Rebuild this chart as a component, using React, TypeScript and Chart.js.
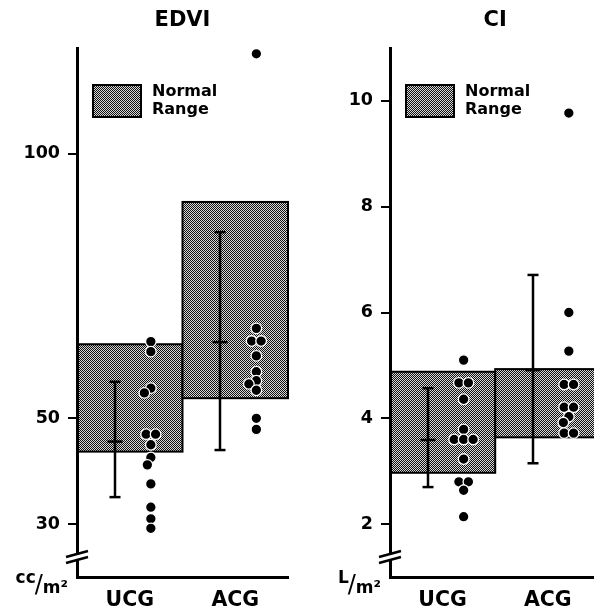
import React, { useEffect, useRef } from "react";
import { Chart, registerables } from "chart.js";

Chart.register(...registerables);

// ---------- data ----------
const categories = ["UCG", "ACG"];

const edviTitle = "EDVI";
const edviUnit = "cc";
const edviTicks = [30, 50, 100];
const edviMin = 20;
const edviMax = 120;
const edviNormalLow = [43.7, 53.8];
const edviNormalHigh = [64.0, 90.9];
const edviMean = [45.6, 64.4];
const edviSdLow = [35.1, 44.0];
const edviSdHigh = [56.9, 85.2];
const edviUCG = [64.5, 62.6, 55.7, 54.8, 47.0, 47.0, 45.0, 42.6, 41.2, 37.6, 33.2, 31.0, 29.2];
const edviACG = [118.9, 67.0, 64.6, 64.6, 61.8, 58.8, 57.1, 56.5, 55.3, 50.0, 47.9];

const ciTitle = "CI";
const ciUnit = "L";
const ciTicks = [2, 4, 6, 8, 10];
const ciMin = 1;
const ciMax = 11;
const ciNormalLow = [2.97, 3.64];
const ciNormalHigh = [4.88, 4.93];
const ciMean = [3.59, 4.91];
const ciSdLow = [2.7, 3.15];
const ciSdHigh = [4.57, 6.71];
const ciUCG = [5.1, 4.67, 4.67, 4.36, 3.79, 3.6, 3.6, 3.6, 3.23, 2.8, 2.8, 2.64, 2.14];
const ciACG = [9.77, 6.0, 5.27, 4.64, 4.64, 4.21, 4.21, 4.03, 3.92, 3.72, 3.72];

const legendLines = ["Normal", "Range"];

// ---------- layout / style ----------
const FONT = "DejaVu Sans";
const ERR_X = 0.36;
const DOT_X = 0.7;

type Panel = {
  title: string;
  unit: string;
  ticks: number[];
  min: number;
  max: number;
  normalLow: number[];
  normalHigh: number[];
  mean: number[];
  sdLow: number[];
  sdHigh: number[];
  groups: number[][];
};

const edviPanel: Panel = {
  title: edviTitle, unit: edviUnit, ticks: edviTicks, min: edviMin, max: edviMax,
  normalLow: edviNormalLow, normalHigh: edviNormalHigh, mean: edviMean,
  sdLow: edviSdLow, sdHigh: edviSdHigh, groups: [edviUCG, edviACG],
};
const ciPanel: Panel = {
  title: ciTitle, unit: ciUnit, ticks: ciTicks, min: ciMin, max: ciMax,
  normalLow: ciNormalLow, normalHigh: ciNormalHigh, mean: ciMean,
  sdLow: ciSdLow, sdHigh: ciSdHigh, groups: [ciUCG, ciACG],
};

function makePattern(ctx: CanvasRenderingContext2D) {
  const c = document.createElement("canvas");
  c.width = 2;
  c.height = 2;
  const g = c.getContext("2d")!;
  g.fillStyle = "#d8d8d8";
  g.fillRect(0, 0, 2, 2);
  g.fillStyle = "#111111";
  g.fillRect(0, 0, 1, 1);
  g.fillRect(1, 1, 1, 1);
  return ctx.createPattern(c, "repeat")!;
}

function line(ctx: CanvasRenderingContext2D, x1: number, y1: number, x2: number, y2: number) {
  ctx.beginPath();
  ctx.moveTo(x1, y1);
  ctx.lineTo(x2, y2);
  ctx.stroke();
}

function makePlugin(p: Panel) {
  return {
    id: "panelDecor",
    afterDatasetsUpdate(chart: any) {
      const D = 8;
      const GAP = 9.5;
      chart.data.datasets.forEach((_: any, di: number) => {
        const meta = chart.getDatasetMeta(di);
        const els = meta.data.slice().sort((a: any, b: any) => a.y - b.y);
        const placed: { x: number; y: number }[] = [];
        let i = 0;
        while (i < els.length) {
          let j = i + 1;
          while (j < els.length && Math.abs(els[j].y - els[i].y) < 0.6) j++;
          const grp = els.slice(i, j);
          const n = grp.length;
          const cx = grp[0].x;
          const offs = grp.map((_: any, k: number) => (k - (n - 1) / 2) * GAP);
          let shift = 0;
          for (let t = 0; t < 120; t++) {
            const s = t === 0 ? 0 : t % 2 === 1 ? -Math.ceil(t / 2) * 0.5 : Math.ceil(t / 2) * 0.5;
            const ok = grp.every((el: any, k: number) =>
              placed.every((q) => Math.hypot(cx + offs[k] + s - q.x, el.y - q.y) >= D)
            );
            if (ok) {
              shift = s;
              break;
            }
          }
          grp.forEach((el: any, k: number) => {
            el.x = cx + offs[k] + shift;
            placed.push({ x: el.x, y: el.y });
          });
          i = j;
        }
      });
    },
    beforeDraw(chart: any) {
      const ctx: CanvasRenderingContext2D = chart.ctx;
      const xs = chart.scales.x;
      const ys = chart.scales.y;
      const area = chart.chartArea;
      const pat = makePattern(ctx);
      ctx.save();
      // normal range boxes
      for (let i = 0; i < categories.length; i++) {
        const x0 = xs.getPixelForValue(i);
        const x1 = xs.getPixelForValue(i + 1);
        const y0 = ys.getPixelForValue(p.normalHigh[i]);
        const y1 = ys.getPixelForValue(p.normalLow[i]);
        ctx.fillStyle = pat;
        ctx.fillRect(x0, y0, x1 - x0, y1 - y0);
        ctx.strokeStyle = "#000";
        ctx.lineWidth = 2;
        ctx.strokeRect(x0, y0, x1 - x0, y1 - y0);
      }
      // mean +- SD bars
      ctx.strokeStyle = "#000";
      ctx.lineWidth = 2.5;
      for (let i = 0; i < categories.length; i++) {
        const xp = Math.round(xs.getPixelForValue(i + ERR_X));
        const yt = ys.getPixelForValue(p.sdHigh[i]);
        const yb = ys.getPixelForValue(p.sdLow[i]);
        const ym = ys.getPixelForValue(p.mean[i]);
        line(ctx, xp, yt, xp, yb);
        line(ctx, xp - 5.5, yt, xp + 5.5, yt);
        line(ctx, xp - 5.5, yb, xp + 5.5, yb);
        line(ctx, xp - 7.5, ym, xp + 7.5, ym);
      }
      // legend
      const lx = area.left + 16;
      const ly = area.top + 37;
      ctx.fillStyle = pat;
      ctx.fillRect(lx, ly, 48, 32);
      ctx.lineWidth = 2;
      ctx.strokeRect(lx, ly, 48, 32);
      ctx.fillStyle = "#000";
      ctx.font = `bold 16px "${FONT}"`;
      ctx.textAlign = "left";
      ctx.textBaseline = "middle";
      ctx.fillText(legendLines[0], lx + 59, ly + 7);
      ctx.fillText(legendLines[1], lx + 59, ly + 25);
      ctx.restore();
    },
    afterDraw(chart: any) {
      const ctx: CanvasRenderingContext2D = chart.ctx;
      const ax = chart.chartArea.left;
      const by = chart.chartArea.bottom;
      ctx.save();
      // axis break
      ctx.fillStyle = "#fff";
      ctx.fillRect(ax - 3, by - 22, 6, 4);
      ctx.strokeStyle = "#000";
      ctx.lineWidth = 2.5;
      line(ctx, ax - 11, by - 20, ax + 11, by - 26);
      line(ctx, ax - 11, by - 14, ax + 11, by - 20);
      // unit label
      ctx.fillStyle = "#000";
      ctx.textAlign = "left";
      ctx.textBaseline = "alphabetic";
      ctx.font = `bold 17px "${FONT}"`;
      const mText = "m\u00B2";
      const mW = ctx.measureText(mText).width;
      const mX = ax - 9 - mW;
      ctx.fillText(mText, mX, by + 16);
      ctx.font = `normal 24px "${FONT}"`;
      const sW = ctx.measureText("/").width;
      const sX = mX - sW;
      ctx.fillText("/", sX, by + 15);
      ctx.font = `bold 17px "${FONT}"`;
      const uW = ctx.measureText(p.unit).width;
      ctx.fillText(p.unit, sX - uW + 1, by + 6);
      ctx.restore();
    },
  };
}

function makeConfig(p: Panel, width: number, axisWidth: number, chartRight: number): any {
  return {
    type: "scatter",
    data: {
      datasets: p.groups.map((vals, i) => ({
        data: vals.map((v) => ({ x: i + DOT_X, y: v })),
        pointRadius: 5.3,
        pointBackgroundColor: "#000",
        pointBorderColor: "#fff",
        pointBorderWidth: 1.3,
        showLine: false,
        clip: false,
      })),
    },
    options: {
      animation: false,
      responsive: false,
      devicePixelRatio: 1,
      layout: { padding: { left: 0, right: width - chartRight, top: 0, bottom: 0 } },
      plugins: {
        legend: { display: false },
        tooltip: { enabled: false },
        title: {
          display: true,
          text: p.title,
          fullSize: false,
          color: "#000",
          font: { family: FONT, size: 21, weight: "bold", lineHeight: 1.2 },
          padding: { top: 8, bottom: 14.8 },
        },
      },
      scales: {
        x: {
          type: "linear",
          min: 0,
          max: 2,
          afterBuildTicks: (s: any) => {
            s.ticks = categories.map((_, i) => ({ value: i + 0.5 }));
          },
          afterFit: (s: any) => {
            s.height = 37;
          },
          ticks: {
            callback: (v: number) => categories[Math.floor(v)],
            color: "#000",
            font: { family: FONT, size: 20.5, weight: "bold" },
            padding: 11,
            maxRotation: 0,
            autoSkip: false,
          },
          grid: { display: true, drawOnChartArea: false, drawTicks: false },
          border: { display: true, color: "#000", width: 3 },
        },
        y: {
          type: "linear",
          min: p.min,
          max: p.max,
          afterBuildTicks: (s: any) => {
            s.ticks = p.ticks.map((v) => ({ value: v }));
          },
          afterFit: (s: any) => {
            s.width = axisWidth;
          },
          ticks: {
            callback: (v: number) => String(v),
            color: "#000",
            font: { family: FONT, size: 17.5, weight: "bold" },
            padding: 8,
            autoSkip: false,
          },
          grid: { display: true, drawOnChartArea: false, drawTicks: true, tickLength: 9, lineWidth: 2, color: "#000" },
          border: { display: true, color: "#000", width: 3 },
        },
      },
    },
    plugins: [makePlugin(p)],
  };
}

function PanelChart(props: { panel: Panel; left: number; width: number; axisWidth: number; chartRight: number }) {
  const ref = useRef<HTMLCanvasElement>(null);
  useEffect(() => {
    const chart = new Chart(ref.current!, makeConfig(props.panel, props.width, props.axisWidth, props.chartRight));
    return () => chart.destroy();
  }, []);
  return (
    <canvas
      ref={ref}
      width={props.width}
      height={614}
      style={{ position: "absolute", left: props.left, top: 0, width: props.width, height: 614 }}
    />
  );
}

export default function App() {
  return (
    <div
      style={{
        position: "absolute",
        left: 0,
        top: 0,
        width: 594,
        height: 614,
        overflow: "hidden",
        background: "#fff",
      }}
    >
      <PanelChart panel={edviPanel} left={0} width={297} axisWidth={77} chartRight={288} />
      <PanelChart panel={ciPanel} left={297} width={310} axisWidth={93} chartRight={304} />
    </div>
  );
}
